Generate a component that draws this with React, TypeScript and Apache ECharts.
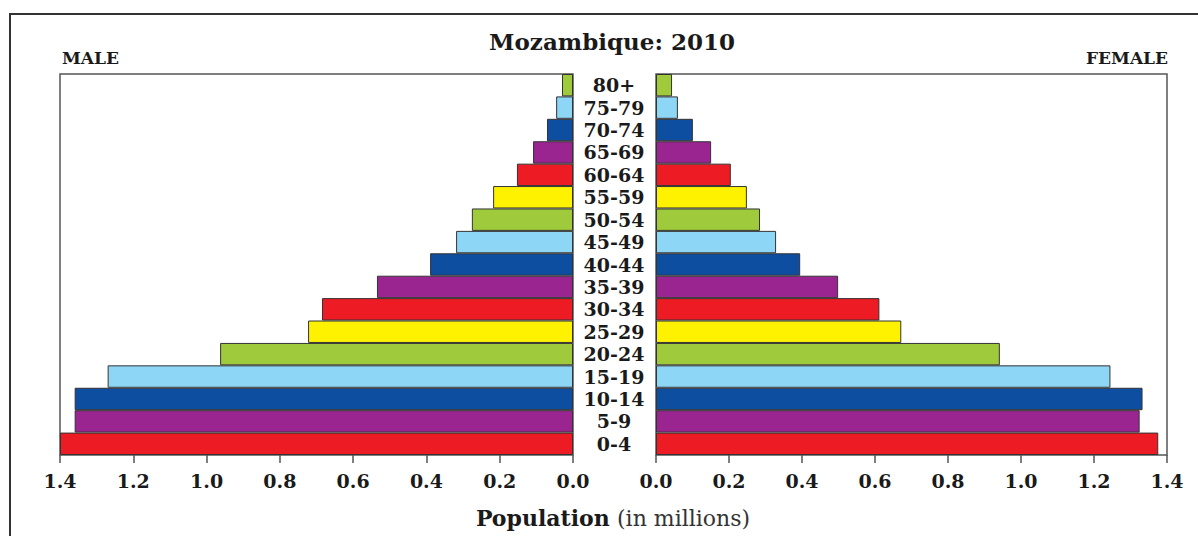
import React, { useEffect, useRef } from "react";
import * as echarts from "echarts";

const categories = ["0-4", "5-9", "10-14", "15-19", "20-24", "25-29", "30-34", "35-39", "40-44", "45-49", "50-54", "55-59", "60-64", "65-69", "70-74", "75-79", "80+"];
const male = [1.4, 1.36, 1.36, 1.27, 0.963, 0.723, 0.685, 0.535, 0.39, 0.319, 0.276, 0.218, 0.153, 0.109, 0.071, 0.046, 0.03];
const female = [1.376, 1.325, 1.333, 1.245, 0.942, 0.672, 0.612, 0.499, 0.395, 0.329, 0.285, 0.249, 0.205, 0.151, 0.101, 0.06, 0.044];
const palette = ["#ed1c24", "#9b2590", "#0d4ea0", "#8ed6f6", "#9fca3b", "#fff200"];
const axisTicks = [0, 1.4, 0.2];

const FONT = "DejaVu Serif";

export default function App() {
  const ref = useRef<HTMLDivElement>(null);
  useEffect(() => {
    document.body.style.margin = "0";
    const chart = echarts.init(ref.current!, undefined, { renderer: "svg" });
    const barStyle = {
      color: (p: any) => palette[p.dataIndex % palette.length],
      borderColor: "#333",
      borderWidth: 1,
    };
    const xAxisBase = (gridIndex: number, inverse: boolean) => ({
      type: "value",
      gridIndex,
      inverse,
      min: axisTicks[0],
      max: axisTicks[1],
      interval: axisTicks[2],
      axisLine: { show: false },
      axisTick: { show: true, length: 8, lineStyle: { color: "#555", width: 1.5 } },
      splitLine: { show: false },
      axisLabel: {
        margin: 16,
        fontFamily: FONT,
        fontWeight: "bold",
        fontSize: 19,
        color: "#1a1a1a",
        formatter: (v: number) => v.toFixed(1),
      },
    });
    chart.setOption({
      animation: false,
      backgroundColor: "#fff",
      grid: [
        { left: 60, top: 74, width: 513, height: 381, show: true, borderColor: "#555", borderWidth: 1.5 },
        { left: 656, top: 74, width: 511, height: 381, show: true, borderColor: "#555", borderWidth: 1.5 },
      ],
      xAxis: [xAxisBase(0, true), xAxisBase(1, false)],
      yAxis: [
        {
          type: "category",
          gridIndex: 0,
          data: categories,
          position: "right",
          axisLine: { show: false },
          axisTick: { show: false },
          axisLabel: { show: false },
        },
        {
          type: "category",
          gridIndex: 1,
          data: categories,
          position: "left",
          axisLine: { show: false },
          axisTick: { show: false },
          axisLabel: {
            show: true,
            interval: 0,
            align: "center",
            margin: 42,
            fontFamily: FONT,
            fontWeight: "bold",
            fontSize: 19,
            lineHeight: 20,
            color: "#1a1a1a",
          },
        },
      ],
      series: [
        {
          type: "bar",
          name: "Male",
          xAxisIndex: 0,
          yAxisIndex: 0,
          data: male,
          barCategoryGap: "0%",
          itemStyle: barStyle,
        },
        {
          type: "bar",
          name: "Female",
          xAxisIndex: 1,
          yAxisIndex: 1,
          data: female,
          barCategoryGap: "0%",
          itemStyle: barStyle,
        },
      ],
      graphic: [
        {
          type: "rect",
          shape: { x: 10, y: 14, width: 1400, height: 800 },
          style: { fill: "none", stroke: "#333", lineWidth: 2 },
          silent: true,
        },
        {
          type: "text",
          x: 612,
          y: 41,
          style: {
            text: "Mozambique: 2010",
            fontFamily: FONT,
            fontWeight: "bold",
            fontSize: 23,
            fill: "#1a1a1a",
            align: "center",
            verticalAlign: "middle",
          },
        },
        {
          type: "text",
          x: 62,
          y: 58,
          style: {
            text: "MALE",
            fontFamily: FONT,
            fontWeight: "bold",
            fontSize: 17,
            fill: "#1a1a1a",
            align: "left",
            verticalAlign: "middle",
          },
        },
        {
          type: "text",
          x: 1168,
          y: 58,
          style: {
            text: "FEMALE",
            fontFamily: FONT,
            fontWeight: "bold",
            fontSize: 17,
            fill: "#1a1a1a",
            align: "right",
            verticalAlign: "middle",
          },
        },
        {
          type: "text",
          x: 613,
          y: 518,
          style: {
            text: "{b|Population} {r|(in millions)}",
            align: "center",
            verticalAlign: "middle",
            rich: {
              b: { fontFamily: FONT, fontWeight: "bold", fontSize: 22, fill: "#1a1a1a", color: "#1a1a1a" },
              r: { fontFamily: FONT, fontWeight: "normal", fontSize: 22, fill: "#333", color: "#333", padding: [0, 0, 0, 4] },
            },
          },
        },
      ],
    });
    return () => chart.dispose();
  }, []);
  return <div ref={ref} style={{ width: 1198, height: 536 }} />;
}
